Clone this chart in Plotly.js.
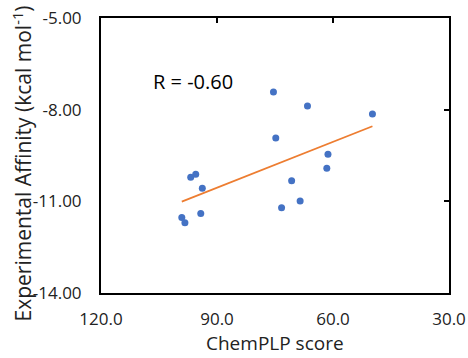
<!DOCTYPE html>
<html><head><meta charset="utf-8">
<script src="https://cdn.plot.ly/plotly-3.0.1.min.js"></script>
<style>html,body{margin:0;padding:0;background:#fff;}#chart{width:468px;height:358px;}</style>
</head><body><div id="chart"></div>
<script>
// ChemPLP score (x) vs experimental affinity (y, kcal/mol)
const chemplp = [75.4, 66.6, 49.8, 74.8, 61.3, 61.6, 70.7, 68.5, 73.3, 96.8, 95.5, 93.8, 94.2, 99.1, 98.3];
const affinity = [-7.42, -7.88, -8.14, -8.93, -9.46, -9.92, -10.33, -10.99, -11.21, -10.21, -10.11, -10.57, -11.40, -11.53, -11.70];
const xTicks = [120, 90, 60, 30];
const xTickText = ["120.0", "90.0", "60.0", "30.0"];
const yTicks = [-5, -8, -11, -14];
const yTickText = ["-5.00", "-8.00", "-11.00", "-14.00"];
const xTitle = "ChemPLP score";
const yTitle = "Experimental Affinity (kcal mol<sup>-1</sup>)";
const rLabel = "R = -0.60";

// linear regression trendline
const n = chemplp.length;
const mx = chemplp.reduce((a,b)=>a+b,0)/n;
const my = affinity.reduce((a,b)=>a+b,0)/n;
let sxy=0, sxx=0;
for (let i=0;i<n;i++){ sxy += (chemplp[i]-mx)*(affinity[i]-my); sxx += (chemplp[i]-mx)**2; }
const slope = sxy/sxx, intercept = my - slope*mx;
const xmin = Math.min(...chemplp), xmax = Math.max(...chemplp);
const lineX = [xmax, xmin];
const lineY = lineX.map(v => intercept + slope*v);

const font = 'Open Sans, Liberation Sans, sans-serif';
const traces = [
  {x: lineX, y: lineY, mode: 'lines', line: {color: '#ED7D31', width: 1.8}, hoverinfo: 'skip', showlegend: false},
  {x: chemplp, y: affinity, mode: 'markers', marker: {color: '#4472C4', size: 7}, showlegend: false},
  {x: [100], y: [-10], xaxis: 'x2', yaxis: 'y2', mode: 'markers', marker: {opacity: 0}, showlegend: false, hoverinfo: 'skip'}
];
const layout = {
  width: 468, height: 358,
  margin: {l: 101, r: 19, t: 18, b: 65},
  paper_bgcolor: '#fff', plot_bgcolor: '#fff',
  font: {family: font, color: '#000'},
  xaxis: {range: [120, 30], tickvals: xTicks, ticktext: xTickText, ticks: '', showgrid: false, zeroline: false,
    showline: true, linecolor: '#000', linewidth: 2, mirror: true, tickfont: {size: 17, color: '#222'},
    ticklabelstandoff: 10},
  yaxis: {range: [-14, -5], tickvals: yTicks, ticktext: yTickText, ticks: '', showgrid: false, zeroline: false,
    showline: true, linecolor: '#000', linewidth: 2, mirror: true, tickfont: {size: 17, color: '#222'},
    ticklabelstandoff: 14},
  xaxis2: {overlaying: 'x', side: 'top', range: [120, 30], tickvals: xTicks, ticks: 'inside', ticklen: 5, tickwidth: 2,
    tickcolor: '#000', showticklabels: false, showgrid: false, zeroline: false},
  yaxis2: {overlaying: 'y', side: 'right', range: [-14, -5], tickvals: yTicks, ticks: 'inside', ticklen: 5, tickwidth: 2,
    tickcolor: '#000', showticklabels: false, showgrid: false, zeroline: false},
  annotations: [
    {xref: 'paper', yref: 'paper', x: 0.145, y: 0.77, xanchor: 'left', yanchor: 'middle',
      text: rLabel, showarrow: false, font: {size: 20, color: '#000'}},
    {xref: 'paper', yref: 'paper', x: 0.4986, y: -0.182, xanchor: 'center', yanchor: 'middle',
      text: xTitle, showarrow: false, font: {size: 19, color: '#222'}},
    {xref: 'paper', yref: 'paper', x: -0.227, y: 0.471, xanchor: 'center', yanchor: 'middle', textangle: -90,
      text: yTitle, showarrow: false, font: {size: 21, color: '#222'}}
  ]
};
Plotly.newPlot('chart', traces, layout, {displayModeBar: false, staticPlot: true});
</script></body></html>
